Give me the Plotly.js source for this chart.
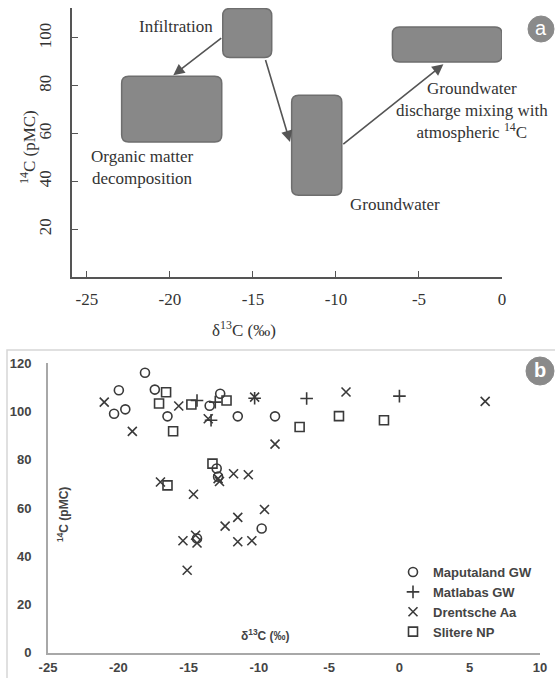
<!DOCTYPE html>
<html>
<head>
<meta charset="utf-8">
<script src="https://cdn.plot.ly/plotly-3.0.1.min.js"></script>
<style>html,body{margin:0;padding:0;background:#fff;}#chart{width:555px;height:678px;}</style>
</head>
<body>
<div id="chart"></div>
<script>
// ---------- Panel (a): conceptual boxes ----------
const boxNames = ["Infiltration", "Organic matter decomposition", "Groundwater", "Discharge"];
const boxX0 = [-16.82, -22.91, -12.67, -6.6];
const boxX1 = [-13.87, -16.88, -9.65, 0.0];
const boxY0 = [91.8, 56.5, 34.2, 90.0];
const boxY1 = [112.3, 84.0, 76.0, 104.6];

const arrowFromX = [-16.82, -14.27, -9.65];
const arrowFromY = [100.4, 91.4, 55.1];
const arrowToX = [-19.80, -12.77, -3.53];
const arrowToY = [84.4, 56.5, 89.0];

const labelTexts = ["Infiltration", "Organic matter<br>decomposition", "Groundwater",
  "Groundwater<br>discharge mixing with<br>atmospheric <sup>14</sup>C"];
const labelX = [-17.3, -21.7, -6.44, -1.82];
const labelY = [104.9, 46.0, 30.4, 69.5];
const labelAnchor = ["right", "center", "center", "center"];

const aTicksX = [-25, -20, -15, -10, -5, 0];
const aTickTextX = ["-25", "-20", "-15", "-10", "-5", "0"];
const aTicksY = [20, 40, 60, 80, 100];
const aTickTextY = ["20", "40", "60", "80", "100"];

// ---------- Panel (b): measured data ----------
const seriesNames = ["Maputaland GW", "Matlabas GW", "Drentsche Aa", "Slitere NP"];
const maputalandX = [-19.96, -18.1, -20.3, -19.5, -17.4, -16.5, -13.5, -12.75, -11.5, -8.85, -13.0, -12.9, -9.8, -14.4];
const maputalandY = [108.8, 116.1, 99.1, 100.9, 109.1, 98.0, 102.4, 107.4, 98.0, 98.0, 76.4, 73.0, 51.5, 47.4];
const matlabasX = [-14.4, -13.1, -13.4, -10.3, -6.6, 0.0];
const matlabasY = [104.6, 103.9, 96.4, 105.5, 105.4, 106.4];
const drentscheX = [-21.0, -19.0, -15.7, -13.6, -10.3, -3.8, 6.1, -8.85, -17.0, -12.9, -12.8, -11.8, -10.75, -14.65, -9.6, -11.5, -12.4, -15.4, -14.5, -14.4, -11.5, -10.5, -15.1];
const drentscheY = [103.9, 91.8, 102.3, 97.0, 106.0, 108.1, 104.2, 86.5, 70.8, 72.2, 71.0, 74.2, 73.8, 65.7, 59.4, 56.1, 52.5, 46.4, 48.7, 45.5, 46.0, 46.4, 34.2];
const slitereX = [-16.6, -17.1, -16.1, -14.8, -12.3, -13.3, -16.5, -7.1, -4.3, -1.1];
const slitereY = [108.0, 103.3, 91.8, 102.9, 104.6, 78.4, 69.4, 93.6, 98.1, 96.4];
const bTicksX = [-25, -20, -15, -10, -5, 0, 5, 10];
const bTickTextX = ["-25", "-20", "-15", "-10", "-5", "0", "5", "10"];
const bTicksY = [0, 20, 40, 60, 80, 100, 120];

// ---------- Layout geometry ----------
const W = 555, H = 678;
const px = v => v / W, py = v => 1 - v / H;
const aXRange = [-25.9, 0], aYRange = [0, 112.5];
const aXDom = [px(72), px(502)], aYDom = [py(277), py(8.1)];
const bXRange = [-25, 10], bYRange = [0, 120];
const bXDom = [px(48), px(540)], bYDom = [py(652.7), py(363.3)];

const pxPerX = (aXDom[1] - aXDom[0]) * W / (aXRange[1] - aXRange[0]);
const pxPerY = (aYDom[1] - aYDom[0]) * H / (aYRange[1] - aYRange[0]);
const rX = 7 / pxPerX, rY = 7 / pxPerY;

function roundedPath(x0, x1, y0, y1) {
  return `M${x0 + rX},${y0} L${x1 - rX},${y0} Q${x1},${y0} ${x1},${y0 + rY} ` +
    `L${x1},${y1 - rY} Q${x1},${y1} ${x1 - rX},${y1} L${x0 + rX},${y1} ` +
    `Q${x0},${y1} ${x0},${y1 - rY} L${x0},${y0 + rY} Q${x0},${y0} ${x0 + rX},${y0} Z`;
}

const shapes = [];
// panel b frame
shapes.push({type: "rect", xref: "paper", yref: "paper", x0: px(7), x1: px(570), y0: py(700), y1: py(350),
  line: {color: "#d6d6d6", width: 1.5}, fillcolor: "rgba(0,0,0,0)", layer: "below"});
boxNames.forEach((n, i) => {
  shapes.push({type: "path", xref: "x", yref: "y", path: roundedPath(boxX0[i], boxX1[i], boxY0[i], boxY1[i]),
    fillcolor: "#888888", line: {color: "#6e6e6e", width: 1.5}, layer: "above"});
});
// badges
shapes.push({type: "circle", xref: "paper", yref: "paper", x0: px(528), x1: px(554), y0: py(42), y1: py(16),
  fillcolor: "#8a8a8a", line: {color: "#8a8a8a", width: 1}});
shapes.push({type: "circle", xref: "paper", yref: "paper", x0: px(526), x1: px(554), y0: py(385), y1: py(357),
  fillcolor: "#8a8a8a", line: {color: "#8a8a8a", width: 1}});

const serif = "'Liberation Serif', 'Times New Roman', serif";
const sans = "'Liberation Sans', Arial, sans-serif";
const annotations = [];
arrowFromX.forEach((x, i) => {
  annotations.push({xref: "x", yref: "y", axref: "x", ayref: "y", x: arrowToX[i], y: arrowToY[i],
    ax: x, ay: arrowFromY[i], text: "", showarrow: true, arrowhead: 2, arrowsize: 1.4,
    arrowwidth: 1.6, arrowcolor: "#555555", standoff: 0, startstandoff: 0});
});
labelTexts.forEach((t, i) => {
  annotations.push({xref: "x", yref: "y", x: labelX[i], y: labelY[i], text: t, showarrow: false,
    xanchor: labelAnchor[i], yanchor: "middle", align: "center",
    font: {family: serif, size: 17, color: "#333333"}});
});
const paperNote = (x, y, text, font, angle) => ({xref: "paper", yref: "paper", x: px(x), y: py(y), text: text,
  showarrow: false, xanchor: "center", yanchor: "middle", textangle: angle || 0, font: font});
annotations.push(paperNote(244, 329, "δ<sup>13</sup>C (‰)", {family: serif, size: 17, color: "#333333"}));
annotations.push(paperNote(28, 147, "<sup>14</sup>C (pMC)", {family: serif, size: 17, color: "#333333"}, -90));
annotations.push(paperNote(541, 28, "a", {family: sans, size: 20, color: "#ffffff"}));
annotations.push(paperNote(540, 370, "b", {family: sans, size: 20, color: "#ffffff", weight: "bold"}));
annotations.push(paperNote(265, 635, "δ<sup>13</sup>C (‰)", {family: sans, size: 12, color: "#444444", weight: "bold"}));
annotations.push(paperNote(63, 515, "<sup>14</sup>C (pMC)", {family: sans, size: 12, color: "#444444", weight: "bold"}, -90));

const mk = (sym) => ({symbol: sym, size: 9, color: "#3a3a3a", line: {color: "#3a3a3a", width: 1.6}});
const traces = [
  {x: maputalandX, y: maputalandY, name: seriesNames[0], marker: mk("circle-open")},
  {x: matlabasX, y: matlabasY, name: seriesNames[1], marker: mk("cross-thin-open")},
  {x: drentscheX, y: drentscheY, name: seriesNames[2], marker: mk("x-thin-open")},
  {x: slitereX, y: slitereY, name: seriesNames[3], marker: mk("square-open")}
].map(t => Object.assign({type: "scatter", mode: "markers", xaxis: "x2", yaxis: "y2", cliponaxis: false}, t));
// anchor trace for panel a (no visible marks)
traces.push({type: "scatter", mode: "markers", x: [], y: [], xaxis: "x", yaxis: "y", showlegend: false});

const layout = {
  width: W, height: H, margin: {l: 0, r: 0, t: 0, b: 0},
  paper_bgcolor: "#ffffff", plot_bgcolor: "rgba(0,0,0,0)",
  showlegend: true,
  legend: {x: px(393), y: py(557), xanchor: "left", yanchor: "top", bgcolor: "rgba(0,0,0,0)",
    font: {family: sans, size: 13, color: "#444444", weight: "bold"}, itemwidth: 30, tracegroupgap: 0},
  xaxis: {domain: aXDom, range: aXRange, anchor: "y", tickvals: aTicksX, ticktext: aTickTextX, ticks: "inside", ticklen: 6,
    tickcolor: "#555555", showline: true, linecolor: "#555555", linewidth: 2, showgrid: false, zeroline: false,
    tickfont: {family: serif, size: 17, color: "#333333"}, ticklabelstandoff: 6},
  yaxis: {domain: aYDom, range: aYRange, anchor: "x", tickvals: aTicksY, ticktext: aTickTextY, ticks: "inside", ticklen: 6,
    tickcolor: "#555555", showline: true, linecolor: "#555555", linewidth: 2, showgrid: false, zeroline: false,
    tickangle: -90, tickfont: {family: serif, size: 17, color: "#333333"}, ticklabelstandoff: 12},
  xaxis2: {domain: bXDom, range: bXRange, anchor: "y2", tickvals: bTicksX, ticktext: bTickTextX, ticks: "", showline: true,
    linecolor: "#a8a8a8", linewidth: 2, showgrid: false, zeroline: false,
    tickfont: {family: sans, size: 13, color: "#444444", weight: "bold"}, ticklabelstandoff: 2},
  yaxis2: {domain: bYDom, range: bYRange, anchor: "x2", tickvals: bTicksY, ticks: "", showline: true,
    linecolor: "#a8a8a8", linewidth: 2, showgrid: false, zeroline: false,
    tickfont: {family: sans, size: 13, color: "#444444", weight: "bold"}, ticklabelstandoff: 12},
  shapes: shapes, annotations: annotations
};
Plotly.newPlot("chart", traces, layout, {staticPlot: true, displayModeBar: false});
</script>
</body>
</html>
